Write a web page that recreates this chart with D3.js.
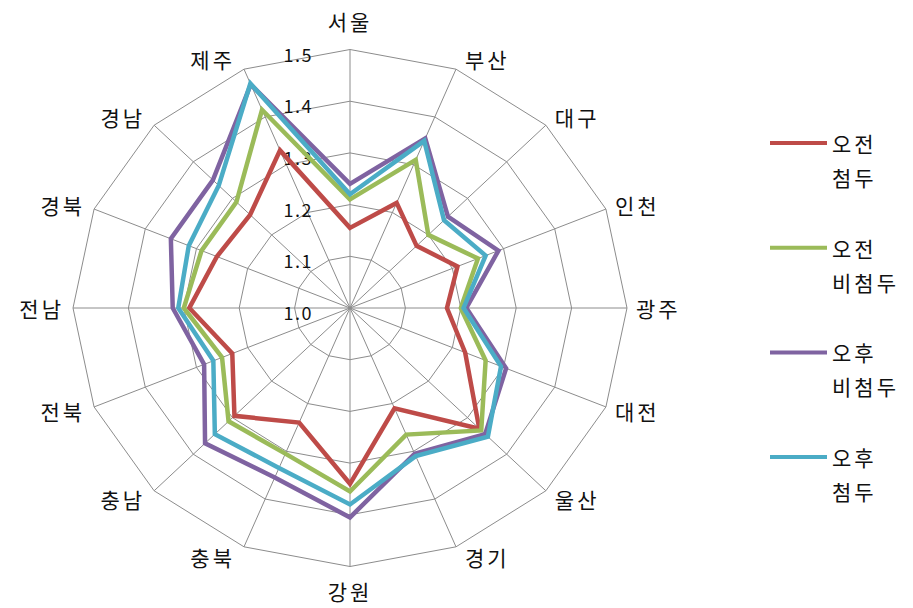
<!DOCTYPE html>
<html>
<head>
<meta charset="utf-8">
<script src="https://cdn.jsdelivr.net/npm/d3@7"></script>
<style>
  html, body { margin: 0; padding: 0; background: #fff; }
  svg text { font-family: "Noto Sans CJK KR", "Noto Sans", sans-serif; fill: #111; }
</style>
</head>
<body>
<svg id="radar"></svg>
<script>
// categories clockwise from the top
const categories = ["서울", "부산", "대구", "인천", "광주", "대전", "울산", "경기",
                    "강원", "충북", "충남", "전북", "전남", "경북", "경남", "제주"];

const seriesNames = [["오전", "첨두"], ["오전", "비첨두"], ["오후", "비첨두"], ["오후", "첨두"]];
const seriesColors = ["#BE4B48", "#9BBB59", "#7F63A1", "#4BACC6"];

const amPeak    = [1.155, 1.22, 1.17, 1.21, 1.175, 1.225, 1.33, 1.21, 1.34, 1.24, 1.295, 1.23, 1.29, 1.26, 1.255, 1.33];
const amOffPeak = [1.21, 1.31, 1.20, 1.25, 1.20, 1.265, 1.335, 1.265, 1.355, 1.305, 1.31, 1.25, 1.30, 1.29, 1.29, 1.415];
const pmOffPeak = [1.24, 1.355, 1.25, 1.29, 1.21, 1.305, 1.345, 1.305, 1.405, 1.355, 1.37, 1.285, 1.32, 1.35, 1.35, 1.468];
const pmPeak    = [1.22, 1.35, 1.24, 1.265, 1.205, 1.295, 1.352, 1.31, 1.38, 1.335, 1.345, 1.267, 1.31, 1.315, 1.335, 1.47];

const tickValues = [1.0, 1.1, 1.2, 1.3, 1.4, 1.5];

const series = [amPeak, amOffPeak, pmOffPeak, pmPeak];

const svgWidth = 913;
const svgHeight = 608;

const svg = d3.select("#radar")
    .attr("width", svgWidth)
    .attr("height", svgHeight);

const cx = 350, cy = 308;
const rx = 277, ry = 258.5;   // plot is a bit wider than tall

const r = d3.scaleLinear().domain([1.0, 1.5]).range([0, 1]);
const angle = d3.scalePoint().domain(categories).range([0, 2 * Math.PI * 15 / 16]);

const px = (cat, v) => cx + rx * r(v) * Math.sin(angle(cat));
const py = (cat, v) => cy - ry * r(v) * Math.cos(angle(cat));

const g = svg.append("g");

// rings
const ring = d3.line()
    .x(c => px(c.cat, c.v))
    .y(c => py(c.cat, c.v))
    .curve(d3.curveLinearClosed);

g.selectAll("path.ring")
    .data(tickValues.slice(1))
    .enter()
    .append("path")
    .attr("class", "ring")
    .attr("d", t => ring(categories.map(cat => ({ cat: cat, v: t }))))
    .attr("fill", "none")
    .attr("stroke", "#8c8c8c")
    .attr("stroke-width", 1);

// spokes
g.selectAll("line.spoke")
    .data(categories)
    .enter()
    .append("line")
    .attr("class", "spoke")
    .attr("x1", cx)
    .attr("y1", cy)
    .attr("x2", d => px(d, 1.5))
    .attr("y2", d => py(d, 1.5))
    .attr("stroke", "#8c8c8c")
    .attr("stroke-width", 1);

// tick labels along the top spoke
const fmt = d3.format(".1f");
g.selectAll("text.tick")
    .data(tickValues)
    .enter()
    .append("text")
    .attr("class", "tick")
    .attr("x", cx - 37)
    .attr("y", t => py(categories[0], t) + 4)
    .attr("text-anchor", "end")
    .attr("dominant-baseline", "central")
    .attr("font-size", 18)
    .attr("letter-spacing", "1.5px")
    .text(t => fmt(t));

// category labels
g.selectAll("text.cat")
    .data(categories)
    .enter()
    .append("text")
    .attr("class", "cat")
    .attr("x", d => {
        const s = Math.sin(angle(d));
        if (Math.abs(s) < 0.1) return px(d, 1.5);
        return px(d, 1.5) + (s > 0 ? 9 : -9);
    })
    .attr("y", d => {
        const s = Math.sin(angle(d)), c = Math.cos(angle(d));
        if (Math.abs(s) < 0.1) return py(d, 1.5) + (c > 0 ? -29 : 24);
        return py(d, 1.5) - 11 * c;
    })
    .attr("text-anchor", d => {
        const s = Math.sin(angle(d));
        if (Math.abs(s) < 0.1) return "middle";
        return s > 0 ? "start" : "end";
    })
    .attr("dominant-baseline", "central")
    .attr("font-size", 21)
    .attr("letter-spacing", "3px")
    .text(d => d);

// series
const line = d3.line()
    .x((v, i) => px(categories[i], v))
    .y((v, i) => py(categories[i], v))
    .curve(d3.curveLinearClosed);

g.selectAll("path.series")
    .data(series)
    .enter()
    .append("path")
    .attr("class", "series")
    .attr("d", d => line(d))
    .attr("fill", "none")
    .attr("stroke", (d, i) => seriesColors[i])
    .attr("stroke-width", 4.5)
    .attr("stroke-linejoin", "miter");

// legend
const legend = svg.append("g")
    .selectAll("g")
    .data(seriesNames)
    .enter()
    .append("g")
    .attr("transform", (d, i) => `translate(770,${143 + i * 104.7})`);

legend.append("line")
    .attr("x1", 0)
    .attr("x2", 57)
    .attr("y1", 0)
    .attr("y2", 0)
    .attr("stroke", (d, i) => seriesColors[i])
    .attr("stroke-width", 4);

legend.append("text")
    .attr("x", 62)
    .attr("y", 0)
    .attr("dominant-baseline", "central")
    .attr("font-size", 21)
    .attr("letter-spacing", "3px")
    .text(d => d[0]);

legend.append("text")
    .attr("x", 62)
    .attr("y", 34)
    .attr("dominant-baseline", "central")
    .attr("font-size", 21)
    .attr("letter-spacing", "3px")
    .text(d => d[1]);
</script>
</body>
</html>
